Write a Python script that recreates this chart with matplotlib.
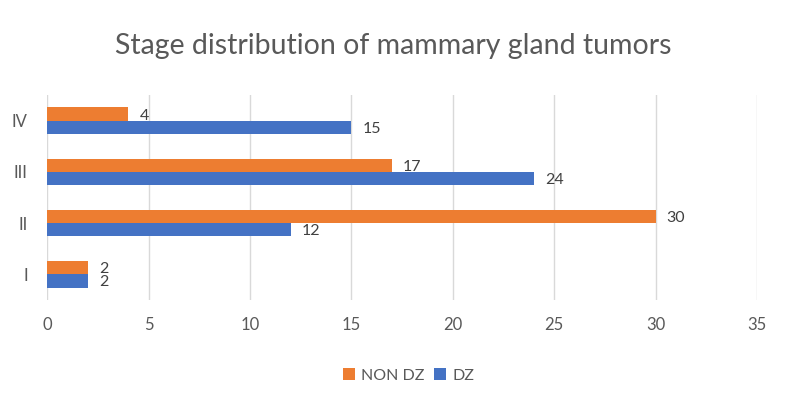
import numpy as np
import matplotlib.pyplot as plt

plt.rcParams['font.family'] = ['Lato', 'DejaVu Sans']

stages = ['I', 'II', 'III', 'IV']
non_dz = [2, 30, 17, 4]
dz = [2, 12, 24, 15]

orange = '#ED7D31'
blue = '#4472C4'
txt = '#595959'

fig = plt.figure(figsize=(7.86, 3.93), dpi=100)
ax = fig.add_axes([0.06, 0.237, 0.903, 0.521])

y = np.arange(len(stages))
h = 0.26
b1 = ax.barh(y + h / 2, non_dz, h, color=orange, label='NON DZ', zorder=3)
b2 = ax.barh(y - h / 2, dz, h, color=blue, label='DZ', zorder=3)

for bars in (b1, b2):
    for r in bars:
        ax.text(r.get_width() + 0.55, r.get_y() + r.get_height() / 2 - 0.03,
                str(int(r.get_width())), va='center', ha='left',
                fontsize=11.5, color='#404040')

ax.set_xlim(0, 35)
ax.set_ylim(-0.5, 3.5)
ax.set_xticks(range(0, 36, 5))
ax.set_yticks(y)
ax.set_yticklabels(stages)
ax.grid(axis='x', color='#D9D9D9', lw=1, zorder=0)
for s in ax.spines.values():
    s.set_visible(False)
ax.tick_params(length=0, colors=txt, labelsize=12)
ax.tick_params(axis='x', pad=12)
ax.tick_params(axis='y', pad=14)

fig.suptitle('Stage distribution of mammary gland tumors', y=0.915,
             fontsize=20.5, color=txt)
fig.legend(handles=[b1, b2], loc='center', bbox_to_anchor=(0.52, 0.045),
           ncol=2, frameon=False, fontsize=11.5, labelcolor=txt,
           handlelength=0.75, handleheight=0.75, handletextpad=0.4, columnspacing=0.6)

fig.savefig('out.png', dpi=100)
